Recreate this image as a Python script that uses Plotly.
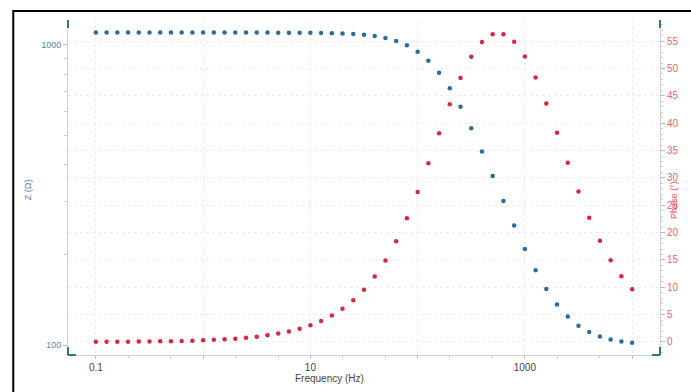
import plotly.graph_objects as go

# Frequencies (Hz): 10 points per decade, 0.1 Hz .. 10 kHz
freq = [0.1, 0.1259, 0.1585, 0.1995, 0.2512, 0.3162, 0.3981, 0.5012, 0.631, 0.7943,
        1.0, 1.259, 1.585, 1.995, 2.512, 3.162, 3.981, 5.012, 6.31, 7.943,
        10.0, 12.59, 15.85, 19.95, 25.12, 31.62, 39.81, 50.12, 63.1, 79.43,
        100.0, 125.9, 158.5, 199.5, 251.2, 316.2, 398.1, 501.2, 631.0, 794.3,
        1000.0, 1259.0, 1585.0, 1995.0, 2512.0, 3162.0, 3981.0, 5012.0, 6310.0, 7943.0,
        10000.0]

# |Z| in ohm (blue, left log axis)
z_mag = [1100.0, 1100.0, 1100.0, 1100.0, 1100.0, 1100.0, 1100.0, 1100.0, 1100.0, 1100.0,
         1100.0, 1100.0, 1099.9, 1099.9, 1099.9, 1099.8, 1099.7, 1099.5, 1099.2, 1098.8,
         1098.1, 1097.0, 1095.3, 1092.6, 1088.3, 1081.6, 1071.3, 1055.5, 1031.8, 997.5,
         949.5, 886.0, 807.4, 717.4, 622.0, 528.2, 441.6, 365.8, 302.0, 250.1,
         209.0, 177.4, 153.8, 136.5, 124.4, 116.0, 110.4, 106.7, 104.3, 102.7,
         101.7]

# Phase in degrees (red, right linear axis)
phase = [0.03, 0.04, 0.05, 0.06, 0.08, 0.10, 0.12, 0.15, 0.19, 0.24,
         0.31, 0.39, 0.49, 0.61, 0.77, 0.97, 1.22, 1.54, 1.93, 2.43,
         3.06, 3.85, 4.84, 6.08, 7.64, 9.57, 11.96, 14.89, 18.43, 22.61,
         27.41, 32.67, 38.15, 43.48, 48.26, 52.14, 54.86, 56.26, 56.28, 54.90,
         52.21, 48.36, 43.59, 38.27, 32.79, 27.52, 22.71, 18.52, 14.96, 12.02,
         9.62]

x_tickvals = [0.1, 1, 10, 100, 1000, 10000]
x_ticktext = ["0.1", "", "10", "", "1000", ""]
y_tickvals = [100, 1000]
y_ticktext = ["100", "1000"]
y_minorvals = [200, 300, 400, 500, 600, 700, 800, 900]
phase_ticks = [0, 5, 10, 15, 20, 25, 30, 35, 40, 45, 50, 55]

BLUE = "#2b6c98"
RED = "#d42a3f"
TEAL = "#2f7a78"
FONT = "Liberation Sans, Arial, sans-serif"

W, H = 691, 392
L, R, T, B = 68, 663, 20, 355  # plot area in pixels
pw, ph = R - L, B - T

def px(x):
    return (x - L) / pw

def py(y):
    return (B - y) / ph

fig = go.Figure()
fig.add_trace(go.Scatter(x=freq, y=z_mag, mode="markers", name="Z",
                         marker=dict(color=BLUE, size=4.5), yaxis="y"))
fig.add_trace(go.Scatter(x=freq, y=phase, mode="markers", name="Phase",
                         marker=dict(color=RED, size=4.5), yaxis="y2"))

fig.update_layout(
    width=W, height=H,
    margin=dict(l=L, r=W - R, t=T, b=H - B, pad=0),
    paper_bgcolor="white", plot_bgcolor="white",
    showlegend=False,
    font=dict(family=FONT, size=9, color="#555"),
    xaxis=dict(type="log", range=[-1.26, 4.26],
               tickvals=x_tickvals, ticktext=x_ticktext,
               ticks="outside", ticklen=3, tickcolor="#bbb",
               tickfont=dict(size=10, color="#444"),
               showline=True, linecolor="#cfcfcf", linewidth=1,
               showgrid=True, gridcolor="#ededed", griddash="dot",
               minor=dict(ticks="outside", ticklen=2, tickcolor="#ccc", showgrid=False),
               zeroline=False),
    yaxis=dict(type="log", range=[1.9667, 3.0833],
               tickvals=y_tickvals, ticktext=y_ticktext,
               ticks="outside", ticklen=4, tickcolor="#bbb",
               tickfont=dict(size=9, color="#5b86a6"),
               showline=True, linecolor="#cfcfcf", linewidth=1,
               showgrid=False,
               minor=dict(tickvals=y_minorvals, ticks="outside", ticklen=3,
                          tickcolor="#ccc", showgrid=False),
               zeroline=False),
    yaxis2=dict(overlaying="y", side="right", range=[-2.38, 58.87],
                tickvals=phase_ticks, ticks="outside", ticklen=4, tickcolor="#bbb",
                tickfont=dict(size=10, color="#e06a6a"),
                showline=True, linecolor="#cfcfcf", linewidth=1,
                showgrid=True, gridcolor="#ededed", griddash="dot",
                minor=dict(dtick=1, ticks="outside", ticklen=2, tickcolor="#ccc", showgrid=False),
                zeroline=False),
)

shapes = []
# outer black frame of the screenshot
shapes.append(dict(type="rect", xref="paper", yref="paper",
                   x0=px(13), x1=px(720), y0=py(430), y1=py(11),
                   line=dict(color="black", width=2), fillcolor="rgba(0,0,0,0)"))
# teal axis end caps
cap = 8
for (x0, y0, x1, y1) in [
    (L, T, L, T + cap), (R, T, R, T + cap),
    (L, B - cap, L, B), (L, B, L + cap, B),
    (R, B - cap, R, B), (R - cap, B, R, B),
]:
    shapes.append(dict(type="line", xref="paper", yref="paper",
                       x0=px(x0), x1=px(x1), y0=py(y0), y1=py(y1),
                       line=dict(color=TEAL, width=2)))
fig.update_layout(shapes=shapes)

fig.add_annotation(text="Z (Ω)", xref="paper", yref="paper", x=px(21), y=py(190),
                   showarrow=False, textangle=-90, font=dict(size=9, color="#4f86ad"))
fig.add_annotation(text="Phase (°)", xref="paper", yref="paper", x=px(684), y=py(200),
                   showarrow=False, textangle=-90, font=dict(size=9, color="#e0505a"))
fig.add_annotation(text="Frequency (Hz)", xref="paper", yref="paper", x=px(331), y=py(386),
                   showarrow=False, font=dict(size=10, color="#444"))

fig.write_html("out.html", config={"displayModeBar": False},
               post_script="document.body.style.margin='0';document.body.style.overflow='hidden';")
